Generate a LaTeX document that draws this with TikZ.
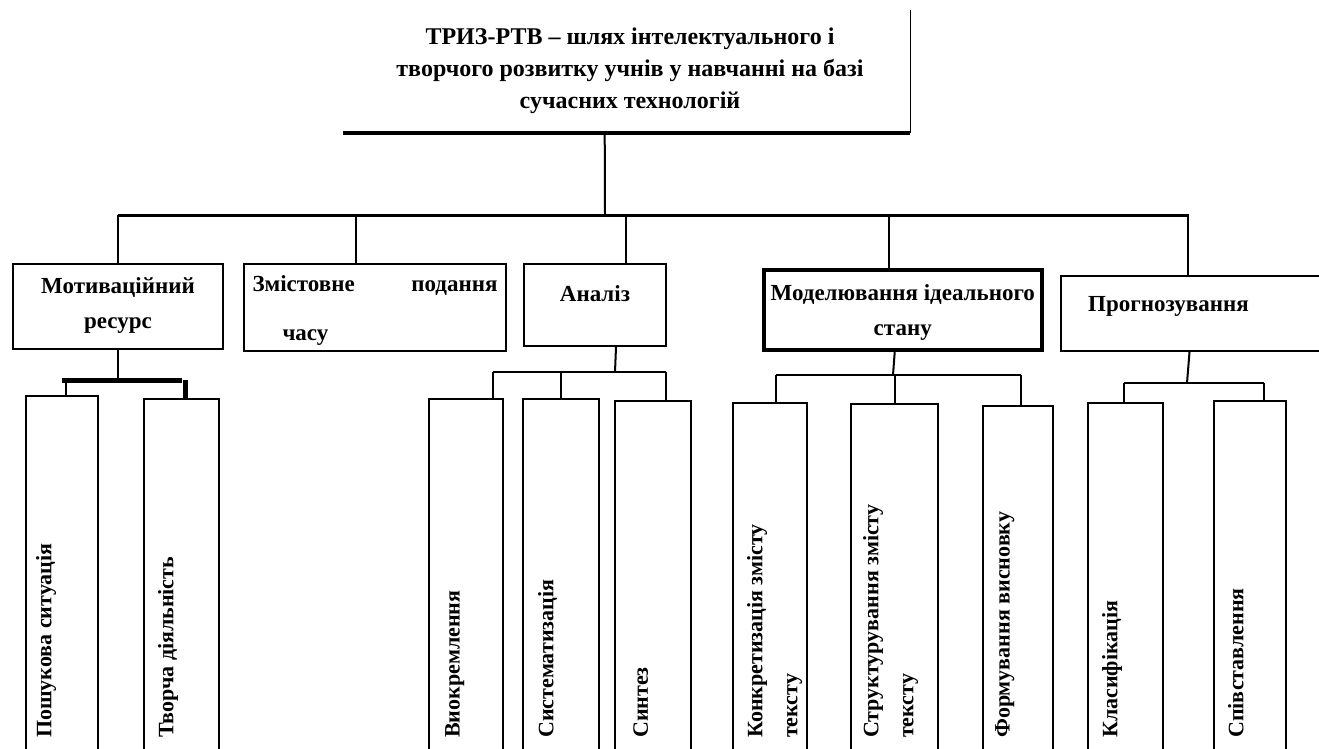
\documentclass[tikz,border=0pt]{standalone}
\usepackage{fontspec}
\setmainfont{Liberation Serif}
\begin{document}
\begin{tikzpicture}[x=1pt,y=-1pt,
  frame/.style={draw, line width=2pt, inner sep=0pt, anchor=north west},
  heavy/.style={frame, line width=3.5pt},
  lbl/.style={font=\fontsize{23}{35}\selectfont\bfseries, align=center, inner sep=0pt, anchor=north},
  vlbl/.style={font=\fontsize{22}{35}\selectfont\bfseries, align=left, rotate=90, anchor=north west, inner sep=0pt},
  wire/.style={line width=2pt},
  thickwire/.style={line width=3pt},
  fatwire/.style={line width=5pt}]
\useasboundingbox (0,0) rectangle (1319,748);
\clip (0,0) rectangle (1319,748);

% ---- root ----
\node[inner sep=0pt, minimum width=567pt, minimum height=123pt, anchor=north west] (t) at (343,10) {};
\draw[line width=1.5pt] (t.north east) -- (t.south east);
\draw[line width=4pt] (t.south west) -- (t.south east);
\node[lbl, font=\fontsize{24}{32}\selectfont\bfseries] (ttxt) at (630,28)
  {ТРИЗ-РТВ – шлях інтелектуального і\\
   творчого розвитку учнів у навчанні на базі\\
   сучасних технологій};

% ---- first level ----
\node[frame, minimum width=210pt, minimum height=85pt] (b1) at (12,263) {};
\node[frame, minimum width=262pt, minimum height=87pt] (b2) at (243,263) {};
\node[frame, minimum width=142pt, minimum height=82pt] (b3) at (523,263) {};
\node[heavy, minimum width=278pt, minimum height=80pt] (b4) at (762,268) {};
\node[frame, minimum width=265pt, minimum height=75pt] (b5) at (1060,275) {};

\node[lbl] (b1t) at ([yshift=-14pt]b1.north) {Мотиваційний\\ресурс};
\node[lbl, align=left, text width=245pt] (b2t) at ([yshift=-12pt]b2.north)
  {Змістовне \hfill подання\\[14pt] \hspace*{30pt}часу};
\node[lbl] (b3t) at ([yshift=-22pt]b3.north) {Аналіз};
\node[lbl] (b4t) at ([yshift=-16pt]b4.north) {Моделювання ідеального\\стану};
\node[lbl, anchor=north west] (b5t) at ([xshift=28pt,yshift=-21pt]b5.north west) {Прогнозування};

% ---- second level ----
\node[frame, minimum width=72pt, minimum height=370pt] (c1) at (25,395) {};
\node[frame, minimum width=75pt, minimum height=370pt] (c2) at (143,398) {};
\node[frame, minimum width=74pt, minimum height=370pt] (c3) at (428,398) {};
\node[frame, minimum width=76pt, minimum height=370pt] (c4) at (522,398) {};
\node[frame, minimum width=76pt, minimum height=370pt] (c5) at (614,400) {};
\node[frame, minimum width=74pt, minimum height=370pt] (c6) at (732,402) {};
\node[frame, minimum width=87pt, minimum height=370pt] (c7) at (850,403) {};
\node[frame, minimum width=70pt, minimum height=370pt] (c8) at (982,405) {};
\node[frame, minimum width=75pt, minimum height=370pt] (c9) at (1087,402) {};
\node[frame, minimum width=72pt, minimum height=370pt] (c10) at (1213,400) {};

\node[vlbl] (c1t) at (36,738) {Пошукова ситуація};
\node[vlbl] (c2t) at (158,738) {Творча діяльність};
\node[vlbl] (c3t) at (445,738) {Виокремлення};
\node[vlbl] (c4t) at (538,738) {Систематизація};
\node[vlbl] (c5t) at (633,738) {Синтез};
\node[vlbl] (c6t) at (747,738) {Конкретизація змісту\\тексту};
\node[vlbl] (c7t) at (863,738) {Структурування змісту\\тексту};
\node[vlbl] (c8t) at (995,738) {Формування висновку};
\node[vlbl] (c9t) at (1102,738) {Класифікація};
\node[vlbl] (c10t) at (1228,738) {Співставлення};

% ---- connectors: root to first level ----
\coordinate (hub) at (605,215);
\draw[wire] ([xshift=-22pt]t.south) -- (hub);
\draw[thickwire] (b1.north |- hub) -- ([xshift=-5pt]b5.north |- hub);
\draw[wire] (b1.north) -- (b1.north |- hub);
\draw[wire] ([xshift=-19pt]b2.north) -- ([xshift=-19pt]b2.north |- hub);
\draw[wire] ([xshift=31pt]b3.north) -- ([xshift=31pt]b3.north |- hub);
\draw[wire] ([xshift=-14pt]b4.north) -- ([xshift=-14pt]b4.north |- hub);
\draw[wire] ([xshift=-6pt]b5.north) -- ([xshift=-6pt]b5.north |- hub);

% ---- connectors: first to second level ----
\coordinate (s1) at (118,380);
\draw[wire] (b1.south) -- (s1);
\draw[fatwire] (c1.north |- s1) -- (c2.north |- s1);
\draw[wire] ([xshift=4pt]c1.north) -- ([xshift=4pt]c1.north |- s1);
\draw[fatwire] ([xshift=4pt]c2.north) -- ([xshift=4pt]c2.north |- s1);

\coordinate (s3) at (615,372);
\draw[wire] ([xshift=21pt]b3.south) -- (s3);
\draw[wire] ([xshift=27pt]c3.north |- s3) -- ([xshift=13pt]c5.north |- s3);
\draw[wire] ([xshift=27pt]c3.north) -- ([xshift=27pt]c3.north |- s3);
\draw[wire] (c4.north) -- (c4.north |- s3);
\draw[wire] ([xshift=13pt]c5.north) -- ([xshift=13pt]c5.north |- s3);

\coordinate (s4) at (893,375);
\draw[wire] ([xshift=-8pt]b4.south) -- (s4);
\draw[wire] ([xshift=6pt]c6.north |- s4) -- ([xshift=3pt]c8.north |- s4);
\draw[wire] ([xshift=6pt]c6.north) -- ([xshift=6pt]c6.north |- s4);
\draw[wire] (c7.north) -- (c7.north |- s4);
\draw[wire] ([xshift=3pt]c8.north) -- ([xshift=3pt]c8.north |- s4);

\coordinate (s5) at (1187,383);
\draw[wire] ([xshift=-4pt]b5.south) -- (s5);
\draw[wire] ([xshift=-2pt]c9.north |- s5) -- ([xshift=14pt]c10.north |- s5);
\draw[wire] ([xshift=-2pt]c9.north) -- ([xshift=-2pt]c9.north |- s5);
\draw[wire] ([xshift=14pt]c10.north) -- ([xshift=14pt]c10.north |- s5);
\end{tikzpicture}
\end{document}
